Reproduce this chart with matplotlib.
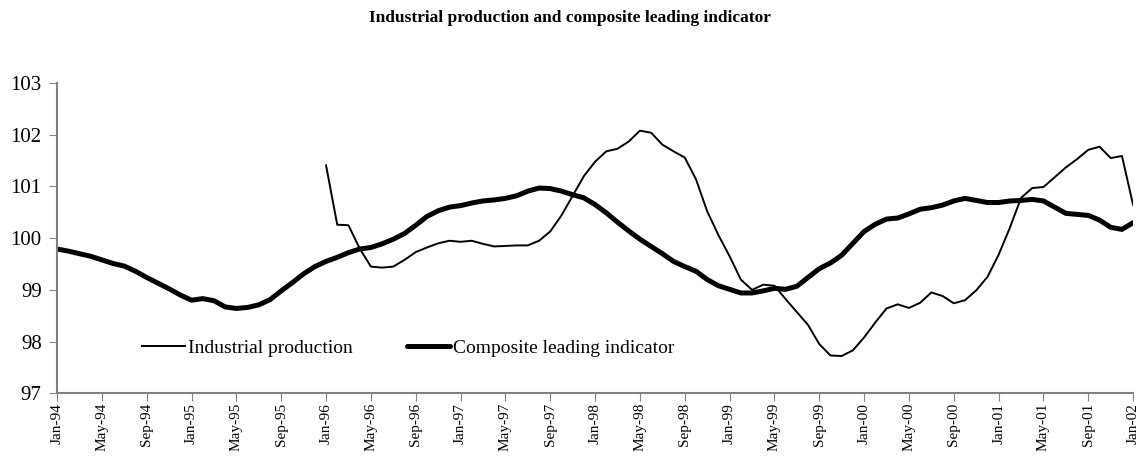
import numpy as np
import pandas as pd
import matplotlib
matplotlib.use('Agg')
import matplotlib.pyplot as plt

# 月次データ (Jan-94 .. Jan-02)
months = pd.date_range('1994-01-01', '2002-01-01', freq='MS')
month_labels = [d.strftime('%b-%y') for d in months]

# 総合先行指数
cli = [
    99.79, 99.75, 99.70, 99.65, 99.58, 99.51, 99.46, 99.36, 99.24, 99.13, 99.02, 98.90,
    98.80, 98.83, 98.79, 98.67, 98.64, 98.66, 98.71, 98.81, 98.98, 99.14, 99.31, 99.45,
    99.55, 99.63, 99.72, 99.79, 99.82, 99.89, 99.98, 100.09, 100.25, 100.42, 100.53, 100.60,
    100.63, 100.68, 100.72, 100.74, 100.77, 100.82, 100.91, 100.97, 100.96, 100.91, 100.84, 100.78,
    100.65, 100.49, 100.31, 100.14, 99.98, 99.84, 99.70, 99.55, 99.45, 99.36, 99.20, 99.08,
    99.01, 98.94, 98.94, 98.98, 99.03, 99.01, 99.07, 99.24, 99.41, 99.52, 99.67, 99.90,
    100.13, 100.27, 100.37, 100.39, 100.47, 100.56, 100.59, 100.64, 100.72, 100.77, 100.73, 100.69,
    100.69, 100.72, 100.73, 100.75, 100.72, 100.60, 100.48, 100.46, 100.44, 100.35, 100.21, 100.17,
    100.30,
]

# 鉱工業生産 (Jan-96 から)
ip_start = 24
ip = [
    101.41, 100.26, 100.25, 99.80, 99.45, 99.43, 99.45, 99.58, 99.73, 99.82, 99.90, 99.95,
    99.93, 99.95, 99.89, 99.84, 99.85, 99.86, 99.86, 99.95, 100.13, 100.44, 100.82, 101.20,
    101.48, 101.68, 101.73, 101.87, 102.08, 102.04, 101.81, 101.68, 101.56, 101.14, 100.52, 100.06,
    99.65, 99.20, 99.00, 99.10, 99.08, 98.82, 98.57, 98.32, 97.95, 97.73, 97.72, 97.83,
    98.08, 98.37, 98.64, 98.72, 98.65, 98.75, 98.95, 98.88, 98.74, 98.80, 98.99, 99.25,
    99.68, 100.20, 100.78, 100.97, 100.99, 101.18, 101.37, 101.53, 101.71, 101.77, 101.55, 101.59,
    100.64,
]

plt.rcParams['font.family'] = ['Liberation Serif', 'DejaVu Serif']

x = np.arange(len(months))
ip_full = [np.nan] * ip_start + ip

fig = plt.figure(figsize=(11.4, 4.67), dpi=100)
ax = fig.add_axes([0.050, 0.158, 0.944, 0.664])

ax.plot(x, ip_full, color='black', lw=1.4, label='Industrial production')
ax.plot(x, cli, color='black', lw=3.6, label='Composite leading indicator',
        solid_capstyle='round', solid_joinstyle='round')

ax.set_xlim(0, len(months) - 1)
ax.set_ylim(97, 103)
ax.set_yticks(range(97, 104))
ax.tick_params(axis='y', labelsize=15, length=6, color='#808080', pad=5)

ax.set_xticks(x[::4])
ax.set_xticklabels(month_labels[::4], rotation=90, fontsize=11)
ax.tick_params(axis='x', length=6, color='#808080', pad=1)

for s in ['top', 'right']:
    ax.spines[s].set_visible(False)
for s in ['left', 'bottom']:
    ax.spines[s].set_color('#808080')
    ax.spines[s].set_linewidth(1.5)

fig.text(0.5, 0.962, 'Industrial production and composite leading indicator',
         ha='center', va='center', fontsize=12.5, fontweight='bold')

ax.legend(loc='center left', bbox_to_anchor=(0.079, 0.145), ncol=2, frameon=False,
          fontsize=14, handlelength=2.2, handletextpad=0.15, columnspacing=2.8,
          borderaxespad=0, borderpad=0)

fig.savefig('out.png', dpi=100)
